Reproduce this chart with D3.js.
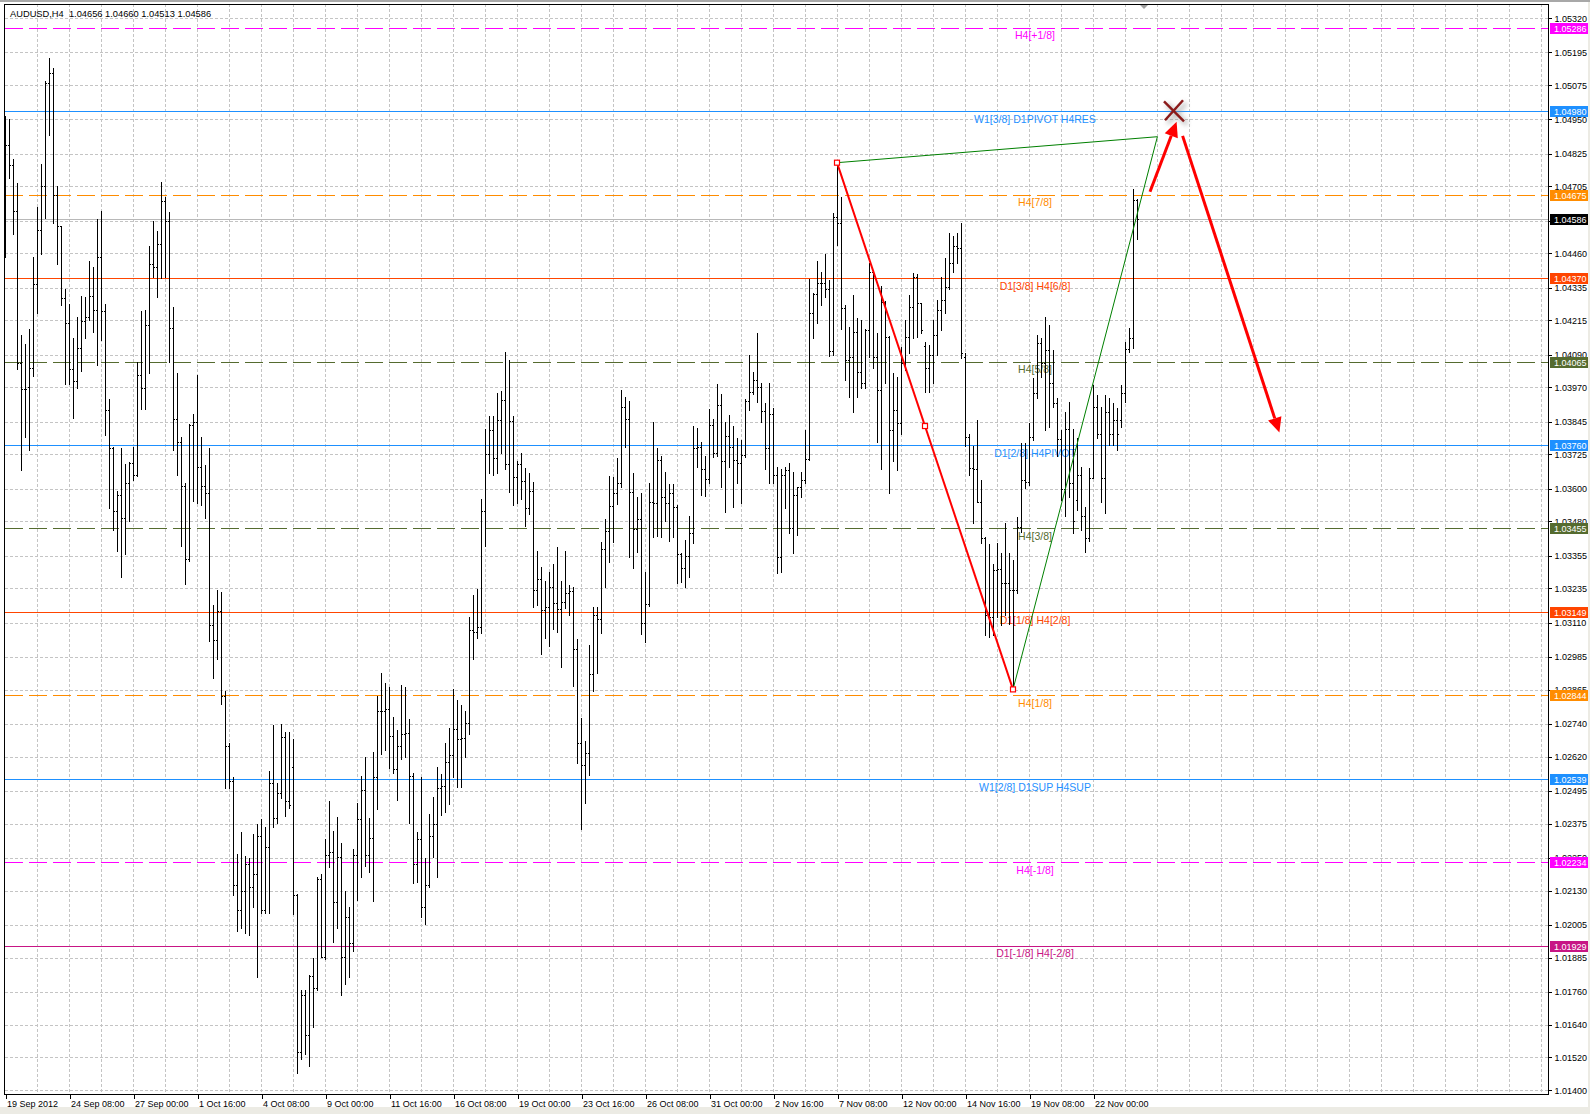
<!DOCTYPE html>
<html>
<head>
<meta charset="utf-8">
<title>AUDUSD,H4</title>
<script src="https://cdn.jsdelivr.net/npm/d3@7"></script>
<style>
  html, body { margin: 0; padding: 0; background: #ecebe4; }
  svg { display: block; }
</style>
</head>
<body>
<svg id="chart" width="1590" height="1114"></svg>
<script>
/* =============================================================
   AUDUSD H4 - bar chart with Murrey levels and pattern drawing
   ============================================================= */

/* ---- Bars (H4, 19 Sep 2012 16:00 .. 23 Nov 2012 20:00) ---- */
const OPEN = [
  1.04900,1.04855,1.04783,1.04614,1.04060,1.03964,1.03971,1.04043,1.04349,1.04547,
  1.04706,1.05084,1.05121,1.04675,1.04561,1.04296,1.04205,1.04036,1.03995,1.04113,
  1.04212,1.04229,1.04306,1.04253,1.04446,1.04248,1.03887,1.03747,1.03520,1.03578,
  1.03494,1.03621,1.03694,1.03650,1.04017,1.03969,1.04200,1.04422,1.04410,1.04494,
  1.04651,1.04578,1.04188,1.03855,1.03771,1.03609,1.03344,1.03831,1.03843,1.03679,
  1.03609,1.03583,1.03101,1.03048,1.03152,1.02843,1.02658,1.02530,1.02149,1.02060,
  1.02127,1.02229,1.02144,1.02192,1.02330,1.02060,1.02289,1.02523,1.02397,1.02486,
  1.02691,1.02457,1.02582,1.02113,1.01540,1.01748,1.01601,1.01818,1.01775,1.02174,
  1.01887,1.02261,1.02270,1.02087,1.02252,1.01887,1.02035,1.01940,1.02261,1.02391,
  1.02499,1.02261,1.02322,1.02544,1.02787,1.02787,1.02794,1.02695,1.02574,1.02660,
  1.02704,1.02707,1.02551,1.02226,1.02318,1.02070,1.02151,1.02330,1.02374,1.02504,
  1.02513,1.02600,1.02626,1.02721,1.02686,1.02690,1.02742,1.03082,1.03077,1.03095,
  1.03517,1.03725,1.03815,1.03711,1.03850,1.03923,1.03690,1.03847,1.03642,1.03690,
  1.03628,1.03529,1.03590,1.03228,1.03268,1.03155,1.03169,1.03242,1.03181,1.03159,
  1.03187,1.03220,1.03225,1.03013,1.02669,1.02590,1.02632,1.02922,1.03138,1.03122,
  1.03378,1.03446,1.03537,1.03583,1.03619,1.03897,1.03853,1.03589,1.03451,1.03488,
  1.03110,1.03178,1.03552,1.03546,1.03705,1.03571,1.03546,1.03583,1.03532,1.03361,
  1.03309,1.03354,1.03437,1.03747,1.03751,1.03671,1.03634,1.03833,1.03732,1.03906,
  1.03702,1.03793,1.03751,1.03705,1.03693,1.03723,1.03922,1.03955,1.03997,1.03973,
  1.03885,1.03747,1.03873,1.03650,1.03351,1.03650,1.03668,1.03455,1.03577,1.03605,
  1.03632,1.03707,1.04244,1.04312,1.04351,1.04353,1.04329,1.04105,1.04595,1.04570,
  1.04259,1.04071,1.04083,1.04174,1.04028,1.03985,1.04180,1.04394,1.04083,1.03961,
  1.04284,1.04156,1.03815,1.03888,1.03839,1.04058,1.04156,1.04266,1.04375,1.04278,
  1.04120,1.04040,1.04089,1.04162,1.04253,1.04290,1.04339,1.04424,1.04487,1.04479,
  1.04080,1.03790,1.03674,1.03671,1.03552,1.03418,1.03138,1.03132,1.03303,1.03305,
  1.03254,1.03254,1.03229,1.03229,1.03461,1.03632,1.03626,1.03790,1.03949,1.04131,
  1.04058,1.04107,1.03985,1.03912,1.03780,1.03600,1.03820,1.03620,1.03560,1.03650,
  1.03500,1.03420,1.03640,1.03900,1.03800,1.03640,1.03880,1.03800,1.03850,1.03850,
  1.03950,1.04110,1.04150,1.04656
];
const HIGH = [
  1.04964,1.04952,1.04807,1.04716,1.04161,1.04128,1.04185,1.04446,1.04631,1.04788,
  1.05092,1.05176,1.05140,1.04706,1.04561,1.04330,1.04277,1.04152,1.04229,1.04306,
  1.04301,1.04434,1.04410,1.04586,1.04614,1.04277,1.03928,1.03752,1.03590,1.03747,
  1.03691,1.03699,1.03752,1.04065,1.04248,1.04253,1.04489,1.04578,1.04542,1.04723,
  1.04667,1.04610,1.04265,1.04024,1.03790,1.03620,1.03838,1.03872,1.04017,1.03790,
  1.03687,1.03747,1.03173,1.03229,1.03221,1.02860,1.02670,1.02545,1.02265,1.02344,
  1.02257,1.02248,1.02337,1.02373,1.02392,1.02361,1.02566,1.02735,1.02523,1.02739,
  1.02711,1.02711,1.02683,1.02117,1.01766,1.01766,1.01821,1.01884,1.02179,1.02191,
  1.02318,1.02457,1.02348,1.02400,1.02304,1.02127,1.02070,1.02283,1.02452,1.02551,
  1.02617,1.02395,1.02638,1.02843,1.02926,1.02891,1.02874,1.02765,1.02718,1.02881,
  1.02874,1.02759,1.02560,1.02343,1.02547,1.02249,1.02412,1.02474,1.02582,1.02556,
  1.02669,1.02725,1.02869,1.02829,1.02808,1.02787,1.03129,1.03211,1.03234,1.03564,
  1.03819,1.03864,1.03864,1.03951,1.03958,1.04099,1.04072,1.03864,1.03700,1.03732,
  1.03677,1.03656,1.03624,1.03373,1.03315,1.03263,1.03294,1.03326,1.03385,1.03263,
  1.03373,1.03246,1.03239,1.03049,1.02760,1.02678,1.03028,1.03166,1.03166,1.03406,
  1.03488,1.03646,1.03644,1.03711,1.03961,1.03934,1.03922,1.03656,1.03571,1.03585,
  1.03296,1.03619,1.03845,1.03747,1.03720,1.03662,1.03617,1.03617,1.03540,1.03363,
  1.03412,1.03500,1.03829,1.03821,1.03772,1.03719,1.03890,1.03853,1.03983,1.03946,
  1.03845,1.03869,1.03829,1.03784,1.03778,1.03927,1.04089,1.04028,1.04170,1.03985,
  1.03914,1.03985,1.03894,1.03678,1.03671,1.03680,1.03693,1.03662,1.03607,1.03662,
  1.03814,1.04365,1.04314,1.04434,1.04394,1.04458,1.04363,1.04609,1.04792,1.04665,
  1.04270,1.04190,1.04308,1.04223,1.04217,1.04183,1.04424,1.04400,1.04168,1.04341,
  1.04287,1.04158,1.04024,1.04010,1.04119,1.04217,1.04308,1.04390,1.04385,1.04280,
  1.04135,1.04125,1.04217,1.04290,1.04375,1.04442,1.04536,1.04524,1.04534,1.04573,
  1.04095,1.03800,1.03756,1.03851,1.03632,1.03424,1.03398,1.03325,1.03400,1.03364,
  1.03473,1.03364,1.03339,1.03498,1.03768,1.03768,1.03839,1.04003,1.04162,1.04150,
  1.04227,1.04198,1.04107,1.03930,1.03815,1.03881,1.03918,1.03820,1.03784,1.03680,
  1.03534,1.03674,1.03979,1.03942,1.03900,1.03942,1.03930,1.03912,1.03894,1.03979,
  1.04137,1.04186,1.04694,1.04660
];
const LOW = [
  1.04446,1.04735,1.04530,1.04036,1.03670,1.03788,1.03742,1.04012,1.04241,1.04458,
  1.04590,1.04892,1.04571,1.04422,1.04272,1.03983,1.03983,1.03860,1.03969,1.04031,
  1.04152,1.04217,1.04173,1.04053,1.04144,1.03795,1.03530,1.03448,1.03373,1.03277,
  1.03361,1.03482,1.03631,1.03646,1.03891,1.03891,1.04024,1.04373,1.04301,1.04369,
  1.04373,1.04065,1.03742,1.03650,1.03390,1.03253,1.03337,1.03554,1.03549,1.03542,
  1.03494,1.03043,1.02908,1.02976,1.02812,1.02506,1.02506,1.02113,1.01983,1.01992,
  1.01975,1.01968,1.02072,1.01814,1.02048,1.02048,1.02048,1.02361,1.02378,1.02470,
  1.02402,1.02433,1.02044,1.01462,1.01514,1.01531,1.01488,1.01630,1.01766,1.01887,
  1.01879,1.02217,1.01943,1.01992,1.01748,1.01787,1.01814,1.01908,1.02096,1.02179,
  1.02221,1.02200,1.02092,1.02429,1.02631,1.02643,1.02579,1.02560,1.02461,1.02613,
  1.02620,1.02377,1.02157,1.02162,1.02035,1.02009,1.02144,1.02252,1.02179,1.02408,
  1.02417,1.02447,1.02547,1.02509,1.02509,1.02617,1.02704,1.02978,1.03055,1.03072,
  1.03390,1.03656,1.03650,1.03656,1.03729,1.03673,1.03586,1.03541,1.03546,1.03564,
  1.03465,1.03506,1.03169,1.03176,1.02996,1.03055,1.03025,1.03086,1.03077,1.02947,
  1.03164,1.03138,1.02877,1.02598,1.02354,1.02449,1.02553,1.02861,1.02925,1.03073,
  1.03242,1.03333,1.03406,1.03544,1.03605,1.03751,1.03351,1.03309,1.03370,1.03069,
  1.03040,1.03171,1.03424,1.03427,1.03424,1.03483,1.03410,1.03422,1.03254,1.03260,
  1.03239,1.03278,1.03400,1.03680,1.03577,1.03573,1.03620,1.03717,1.03719,1.03607,
  1.03516,1.03680,1.03534,1.03619,1.03549,1.03717,1.03888,1.03946,1.03918,1.03845,
  1.03671,1.03622,1.03619,1.03293,1.03296,1.03528,1.03437,1.03363,1.03431,1.03571,
  1.03620,1.03705,1.04150,1.04207,1.04272,1.04300,1.04085,1.04089,1.04491,1.04183,
  1.03997,1.03936,1.03882,1.03936,1.03967,1.03967,1.04083,1.04040,1.03772,1.03671,
  1.03985,1.03584,1.03700,1.03668,1.03800,1.04034,1.04095,1.04150,1.04156,1.04168,
  1.03955,1.03955,1.03985,1.04089,1.04180,1.04244,1.04330,1.04394,1.04424,1.04077,
  1.03756,1.03650,1.03473,1.03552,1.03400,1.03065,1.03059,1.03065,1.03132,1.03101,
  1.03138,1.03105,1.02866,1.03217,1.03440,1.03601,1.03613,1.03778,1.03930,1.04010,
  1.03815,1.03827,1.03900,1.03720,1.03560,1.03500,1.03570,1.03438,1.03522,1.03449,
  1.03370,1.03410,1.03638,1.03784,1.03552,1.03510,1.03760,1.03760,1.03741,1.03827,
  1.03918,1.04100,1.04113,1.04513
];
const CLOSE = [
  1.04855,1.04783,1.04614,1.04060,1.03964,1.03964,1.04043,1.04349,1.04547,1.04706,
  1.05084,1.05121,1.04675,1.04561,1.04296,1.04205,1.04036,1.03995,1.04113,1.04212,
  1.04229,1.04306,1.04253,1.04446,1.04248,1.03887,1.03747,1.03520,1.03578,1.03494,
  1.03621,1.03694,1.03650,1.04017,1.03969,1.04200,1.04422,1.04410,1.04494,1.04651,
  1.04578,1.04188,1.03855,1.03771,1.03609,1.03344,1.03831,1.03843,1.03679,1.03609,
  1.03583,1.03101,1.03048,1.03152,1.02843,1.02658,1.02530,1.02149,1.02060,1.02127,
  1.02229,1.02144,1.02192,1.02330,1.02060,1.02289,1.02523,1.02397,1.02486,1.02691,
  1.02457,1.02445,1.02113,1.01540,1.01748,1.01601,1.01818,1.01775,1.02174,1.01887,
  1.02261,1.02270,1.02087,1.02252,1.01887,1.02035,1.01940,1.02261,1.02391,1.02499,
  1.02261,1.02322,1.02544,1.02787,1.02787,1.02794,1.02695,1.02574,1.02660,1.02704,
  1.02707,1.02551,1.02226,1.02318,1.02070,1.02151,1.02330,1.02374,1.02504,1.02513,
  1.02600,1.02626,1.02721,1.02686,1.02690,1.02742,1.03082,1.03077,1.03095,1.03517,
  1.03725,1.03815,1.03711,1.03850,1.03923,1.03690,1.03847,1.03642,1.03690,1.03628,
  1.03529,1.03590,1.03228,1.03268,1.03155,1.03169,1.03242,1.03181,1.03159,1.03187,
  1.03220,1.03225,1.03013,1.02669,1.02590,1.02632,1.02922,1.03138,1.03122,1.03378,
  1.03446,1.03537,1.03583,1.03619,1.03897,1.03853,1.03589,1.03451,1.03488,1.03110,
  1.03178,1.03552,1.03546,1.03705,1.03571,1.03546,1.03583,1.03532,1.03361,1.03309,
  1.03354,1.03437,1.03747,1.03751,1.03671,1.03634,1.03833,1.03732,1.03906,1.03702,
  1.03793,1.03751,1.03705,1.03693,1.03723,1.03922,1.03955,1.03997,1.03973,1.03885,
  1.03747,1.03873,1.03650,1.03351,1.03650,1.03668,1.03455,1.03577,1.03605,1.03632,
  1.03707,1.04244,1.04312,1.04351,1.04353,1.04329,1.04105,1.04595,1.04570,1.04259,
  1.04071,1.04083,1.04174,1.04028,1.03985,1.04180,1.04394,1.04083,1.03961,1.04284,
  1.04156,1.03815,1.03888,1.03839,1.04058,1.04156,1.04266,1.04375,1.04278,1.04180,
  1.04040,1.04089,1.04162,1.04253,1.04290,1.04339,1.04424,1.04487,1.04479,1.04095,
  1.03790,1.03674,1.03671,1.03552,1.03418,1.03138,1.03132,1.03303,1.03305,1.03254,
  1.03254,1.03229,1.03229,1.03461,1.03632,1.03626,1.03790,1.03949,1.04131,1.04058,
  1.04107,1.03985,1.03912,1.03780,1.03600,1.03820,1.03620,1.03480,1.03650,1.03500,
  1.03420,1.03640,1.03900,1.03800,1.03640,1.03880,1.03800,1.03850,1.03800,1.03950,
  1.04110,1.04150,1.04656,1.04586
];

/* ---- Axis labels ---- */
const Y_TICKS = [
  '1.05320','1.05195','1.05075','1.04950','1.04825','1.04705','1.04580','1.04460',
  '1.04335','1.04215','1.04090','1.03970','1.03845','1.03725','1.03600','1.03480',
  '1.03355','1.03235','1.03110','1.02985','1.02865','1.02740','1.02620','1.02495',
  '1.02375','1.02250','1.02130','1.02005','1.01885','1.01760','1.01640','1.01520','1.01400'
];
const X_LABELS = [
  '19 Sep 2012','24 Sep 08:00','27 Sep 00:00','1 Oct 16:00','4 Oct 08:00','9 Oct 00:00',
  '11 Oct 16:00','16 Oct 08:00','19 Oct 00:00','23 Oct 16:00','26 Oct 08:00','31 Oct 00:00',
  '2 Nov 16:00','7 Nov 08:00','12 Nov 00:00','14 Nov 16:00','19 Nov 08:00','22 Nov 00:00'
];
const X_LABEL_BARS = [0,16,32,48,64,80,96,112,128,144,160,176,192,208,224,240,256,272];

/* ---- Murrey levels ---- */
const LEVEL_VALUES = [1.05286, 1.04980, 1.04675, 1.04370, 1.04065, 1.03760,
                      1.03455, 1.03149, 1.02844, 1.02539, 1.02234, 1.01929];
const LEVEL_NAMES = ['H4[+1/8]', 'W1[3/8] D1PIVOT H4RES', 'H4[7/8]', 'D1[3/8] H4[6/8]',
                     'H4[5/8]', 'D1[2/8] H4PIVOT', 'H4[3/8]', 'D1[1/8] H4[2/8]',
                     'H4[1/8]', 'W1[2/8] D1SUP H4SUP', 'H4[-1/8]', 'D1[-1/8] H4[-2/8]'];
const LAST_PRICE = 1.04586;

/* ---- Drawn objects: [bar, price] ---- */
const PATTERN_A = [208, 1.04792];
const PATTERN_C = [252, 1.02866];
const PATTERN_D = [288.1, 1.04887];
const ARROW_UP   = [[286.25, 1.04686], [292.9, 1.04942]];
const ARROW_DOWN = [[294.4, 1.04890], [318.6, 1.03805]];
const CROSS_MARK = [292.25, 1.04980];

(function () {
  'use strict';

  const FONT = 'Tahoma, "Liberation Sans", Arial, sans-serif';
  const PLOT = { left: 5, right: 1548, top: 4, bottom: 1094 };
  const DASH = '18,6';
  const LEVEL_STYLE = [
    { color: '#ff00ff', dash: DASH },
    { color: '#1e90ff', dash: null },
    { color: '#ff8c00', dash: DASH },
    { color: '#ff4500', dash: null },
    { color: '#556b2f', dash: DASH },
    { color: '#1e90ff', dash: null },
    { color: '#556b2f', dash: DASH },
    { color: '#ff4500', dash: null },
    { color: '#ff8c00', dash: DASH },
    { color: '#1e90ff', dash: null },
    { color: '#ff00ff', dash: DASH },
    { color: '#c71585', dash: null },
  ];
  const LABEL_BAR = 257.5;   // where MT4 centres the level captions

  const svg = d3.select('#chart');

  const x = d3.scaleLinear().domain([0, 385.75]).range([PLOT.left, PLOT.right]);
  const y = d3.scaleLinear().domain([1.01400, 1.05320]).range([1090.3, 18.3]);
  const px = v => Math.round(v) + 0.5;

  /* ---- Window background ---- */
  svg.append('rect').attr('x', 0).attr('y', 0).attr('width', 1588).attr('height', 1107).attr('fill', '#fff');
  svg.append('rect').attr('x', 0).attr('y', 0).attr('width', 1590).attr('height', 2).attr('fill', '#a8a8a8');

  /* ---- Grid ---- */
  const grid = svg.append('g').attr('shape-rendering', 'crispEdges')
    .attr('stroke', '#c4c4c4').attr('stroke-dasharray', '3,2');
  grid.selectAll('line.h').data(Y_TICKS.map(Number)).join('line')
    .attr('x1', PLOT.left).attr('x2', PLOT.right)
    .attr('y1', d => px(y(d))).attr('y2', d => px(y(d)));
  grid.selectAll('line.v').data(d3.range(8, 386, 8)).join('line')
    .attr('y1', PLOT.top).attr('y2', PLOT.bottom)
    .attr('x1', d => px(x(d))).attr('x2', d => px(x(d)));

  /* ---- Level lines and captions ---- */
  const levels = LEVEL_VALUES.map((v, i) => ({ v, name: LEVEL_NAMES[i], ...LEVEL_STYLE[i] }));
  const lv = svg.append('g').attr('shape-rendering', 'crispEdges');
  lv.selectAll('line').data(levels).join('line')
    .attr('x1', PLOT.left).attr('x2', PLOT.right)
    .attr('y1', d => px(y(d.v))).attr('y2', d => px(y(d.v)))
    .attr('stroke', d => d.color)
    .attr('stroke-dasharray', d => d.dash);
  lv.append('line')
    .attr('x1', PLOT.left).attr('x2', PLOT.right)
    .attr('y1', px(y(LAST_PRICE))).attr('y2', px(y(LAST_PRICE)))
    .attr('stroke', '#b8b8b8');

  svg.append('g').selectAll('text').data(levels).join('text')
    .attr('x', x(LABEL_BAR))
    .attr('y', d => y(d.v) + 11.8)
    .attr('text-anchor', 'middle')
    .attr('font-family', FONT)
    .attr('font-size', 10.5)
    .attr('fill', d => d.color)
    .text(d => d.name);

  /* ---- OHLC bars ---- */
  const bars = OPEN.map((o, i) => ({ i, o, h: HIGH[i], l: LOW[i], c: CLOSE[i] }));
  const bg = svg.append('g').attr('shape-rendering', 'crispEdges').attr('fill', '#000');
  bg.selectAll('rect.hl').data(bars).join('rect')
    .attr('x', d => Math.round(x(d.i)))
    .attr('y', d => Math.round(y(d.h)))
    .attr('width', 1)
    .attr('height', d => Math.max(1, Math.round(y(d.l)) - Math.round(y(d.h)) + 1));
  bg.selectAll('rect.o').data(bars).join('rect')
    .attr('x', d => Math.round(x(d.i)) - 1)
    .attr('y', d => Math.round(y(d.o)))
    .attr('width', 1).attr('height', 1);
  bg.selectAll('rect.c').data(bars).join('rect')
    .attr('x', d => Math.round(x(d.i)) + 1)
    .attr('y', d => Math.round(y(d.c)))
    .attr('width', 1).attr('height', 1);

  /* ---- Pattern drawing ---- */
  const P = p => [x(p[0]), y(p[1])];
  const A = P(PATTERN_A), C = P(PATTERN_C), D = P(PATTERN_D);
  const B = [(A[0] + C[0]) / 2, (A[1] + C[1]) / 2];
  const obj = svg.append('g');
  obj.append('path').attr('d', d3.line()([A, D, C]))
    .attr('fill', 'none').attr('stroke', '#008000').attr('stroke-width', 1);
  obj.append('line').attr('x1', A[0]).attr('y1', A[1]).attr('x2', C[0]).attr('y2', C[1])
    .attr('stroke', '#ff0000').attr('stroke-width', 2);
  obj.selectAll('rect').data([A, B, C]).join('rect')
    .attr('x', d => d[0] - 2.5).attr('y', d => d[1] - 2.5)
    .attr('width', 5).attr('height', 5)
    .attr('fill', '#fff').attr('stroke', '#ff0000').attr('stroke-width', 1.2);

  function arrow(from, to) {
    const [x0, y0] = P(from), [x1, y1] = P(to);
    const a = Math.atan2(y1 - y0, x1 - x0);
    const len = 15, half = 7;
    const bx = x1 - len * Math.cos(a), by = y1 - len * Math.sin(a);
    obj.append('line').attr('x1', x0).attr('y1', y0).attr('x2', bx).attr('y2', by)
      .attr('stroke', '#ff0000').attr('stroke-width', 3);
    obj.append('path')
      .attr('d', d3.line()([[x1, y1],
        [bx + half * Math.sin(a), by - half * Math.cos(a)],
        [bx - half * Math.sin(a), by + half * Math.cos(a)]]) + 'Z')
      .attr('fill', '#ff0000');
  }
  arrow(ARROW_UP[0], ARROW_UP[1]);
  arrow(ARROW_DOWN[0], ARROW_DOWN[1]);

  /* ---- Cross mark with soft shadow ---- */
  const defs = svg.append('defs');
  defs.append('filter').attr('id', 'blur').attr('x', '-50%').attr('y', '-50%')
    .attr('width', '200%').attr('height', '200%')
    .append('feGaussianBlur').attr('stdDeviation', 2.5);
  const [cx, cy] = P(CROSS_MARK);
  const crossSegs = [[[-10, -10], [10, 10]], [[9, -11], [-9, 9]]];
  const sh = obj.append('g').attr('filter', 'url(#blur)').attr('opacity', 0.55);
  sh.selectAll('line').data(crossSegs).join('line')
    .attr('x1', d => cx + d[0][0] + 3).attr('y1', d => cy + d[0][1] + 3)
    .attr('x2', d => cx + d[1][0] + 3).attr('y2', d => cy + d[1][1] + 3)
    .attr('stroke', '#888').attr('stroke-width', 4);
  obj.append('g').selectAll('line').data(crossSegs).join('line')
    .attr('x1', d => cx + d[0][0]).attr('y1', d => cy + d[0][1])
    .attr('x2', d => cx + d[1][0]).attr('y2', d => cy + d[1][1])
    .attr('stroke', '#8b1a1a').attr('stroke-width', 2.5);

  /* ---- Frame ---- */
  svg.append('rect')
    .attr('x', PLOT.left - 0.5).attr('y', PLOT.top + 0.5)
    .attr('width', PLOT.right - PLOT.left + 1).attr('height', PLOT.bottom - PLOT.top)
    .attr('fill', 'none').attr('stroke', '#000').attr('shape-rendering', 'crispEdges');

  /* chart shift marker */
  const sx = x(OPEN.length + 0.75);
  svg.append('path').attr('d', d3.line()([[sx - 4, 5], [sx + 4, 5], [sx, 9]]) + 'Z').attr('fill', '#a0a0a0');

  /* ---- Axes ---- */
  const yAxis = d3.axisRight(y)
    .tickValues(Y_TICKS.map(Number))
    .tickFormat((d, i) => Y_TICKS[i])
    .tickSize(3).tickPadding(3);
  svg.append('g')
    .attr('transform', `translate(${PLOT.right + 0.5},0)`)
    .call(yAxis)
    .call(g => g.select('.domain').remove())
    .attr('font-family', FONT).attr('font-size', 9).attr('color', '#000')
    .attr('shape-rendering', 'crispEdges');

  const xAxis = d3.axisBottom(x)
    .tickValues(X_LABEL_BARS)
    .tickFormat((d, i) => X_LABELS[i])
    .tickSize(4).tickPadding(2);
  svg.append('g')
    .attr('transform', `translate(0.5,${PLOT.bottom + 0.5})`)
    .call(xAxis)
    .call(g => g.select('.domain').remove())
    .call(g => g.selectAll('text').attr('text-anchor', 'start').attr('x', 1))
    .attr('font-family', FONT).attr('font-size', 9).attr('color', '#000')
    .attr('shape-rendering', 'crispEdges');

  /* ---- Price boxes on the right scale ---- */
  const boxes = levels.map(d => ({ v: d.v, color: d.color }))
    .concat([{ v: LAST_PRICE, color: '#000' }]);
  const pb = svg.append('g');
  pb.selectAll('rect').data(boxes).join('rect')
    .attr('x', PLOT.right + 2).attr('y', d => Math.round(y(d.v)) - 5)
    .attr('width', 38).attr('height', 11)
    .attr('fill', d => d.color).attr('shape-rendering', 'crispEdges');
  pb.selectAll('text').data(boxes).join('text')
    .attr('x', PLOT.right + 6).attr('y', d => Math.round(y(d.v)) + 4)
    .attr('font-family', FONT).attr('font-size', 9).attr('fill', '#fff')
    .text(d => d.v.toFixed(5));

  /* ---- Header ---- */
  const last = bars[bars.length - 1];
  svg.append('text')
    .attr('x', 10).attr('y', 16.6)
    .attr('font-family', FONT).attr('font-size', 9.3).attr('fill', '#000')
    .attr('xml:space', 'preserve')
    .text(`AUDUSD,H4  ${[last.o, last.h, last.l, last.c].map(v => v.toFixed(5)).join(' ')}`);
})();
</script>
</body>
</html>
